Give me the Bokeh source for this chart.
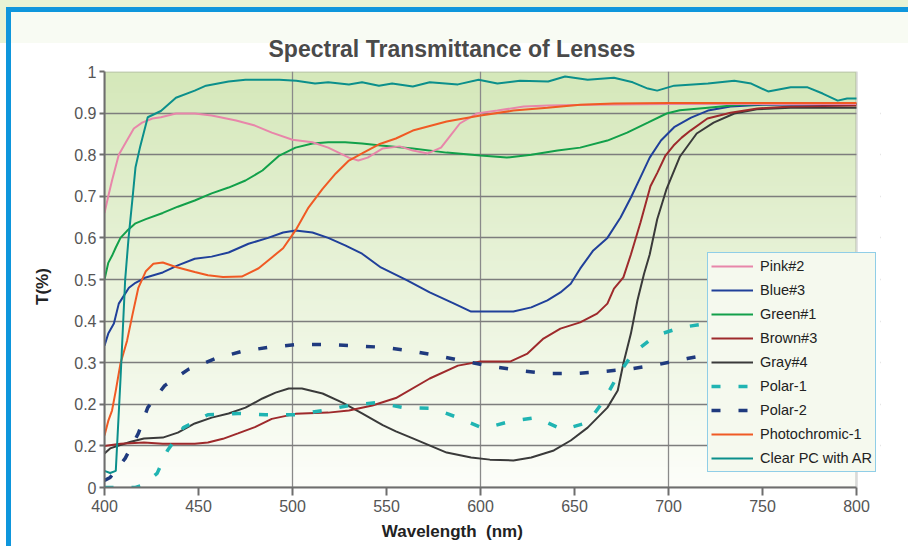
import numpy as np
from bokeh.plotting import figure
from bokeh.models import FixedTicker, Legend, LegendItem, Range1d, LinearAxis, BoxAnnotation
from bokeh.embed import file_html
from bokeh.resources import INLINE

# ---------------- data ----------------
pink_wl = [400, 402, 404, 407.6, 411, 415.6, 420, 425.5, 430, 438, 448, 457, 470, 480, 489, 500, 510.6, 519, 530, 535, 540, 548, 557, 564, 572, 579, 584, 589, 598, 609, 623, 636, 660, 700, 750, 800]
pink_t = [0.66, 0.70, 0.738, 0.80, 0.827, 0.863, 0.877, 0.887, 0.89, 0.899, 0.899, 0.894, 0.882, 0.87, 0.853, 0.836, 0.83, 0.817, 0.793, 0.786, 0.793, 0.815, 0.82, 0.81, 0.803, 0.817, 0.846, 0.875, 0.899, 0.906, 0.916, 0.918, 0.92, 0.922, 0.922, 0.922]

blue_wl = [400, 402, 405, 407.6, 411, 413, 416.5, 422, 431, 439, 448, 457, 466, 476.6, 487, 495, 501.6, 510.6, 519, 528, 537, 547, 561, 573, 586, 595, 617.5, 627, 635.6, 642.5, 648, 653, 660, 667.5, 674.5, 680, 685, 690, 696, 703, 712, 721, 733, 750, 800]
blue_t = [0.341, 0.37, 0.394, 0.442, 0.466, 0.48, 0.492, 0.505, 0.517, 0.534, 0.55, 0.555, 0.565, 0.586, 0.60, 0.613, 0.618, 0.613, 0.60, 0.582, 0.562, 0.529, 0.498, 0.469, 0.442, 0.423, 0.423, 0.433, 0.45, 0.469, 0.49, 0.526, 0.57, 0.60, 0.649, 0.697, 0.745, 0.793, 0.834, 0.866, 0.889, 0.906, 0.916, 0.92, 0.922]

green_wl = [400, 402, 404, 406, 408.5, 412, 416.5, 422, 431, 439, 448, 457, 466, 475, 484, 493, 501.6, 510.6, 519, 528, 537, 547, 564, 582, 600, 614, 627, 641, 653, 667.5, 678, 689, 699, 706, 721, 738, 760, 800]
green_t = [0.5, 0.54, 0.557, 0.577, 0.60, 0.617, 0.635, 0.645, 0.66, 0.675, 0.69, 0.707, 0.721, 0.738, 0.762, 0.798, 0.817, 0.827, 0.83, 0.83, 0.827, 0.822, 0.815, 0.805, 0.798, 0.793, 0.80, 0.81, 0.817, 0.834, 0.853, 0.877, 0.899, 0.907, 0.913, 0.92, 0.922, 0.922]

brown_wl = [400, 408.5, 421, 431, 448, 455, 463, 471, 480, 489, 501.6, 519, 530, 542.5, 555, 573, 588, 600, 616, 625, 633.5, 642.5, 653, 662, 667.5, 671, 676, 680, 685.1, 690.4, 694.1, 698.4, 702.7, 707, 711.7, 720.7, 733, 747.3, 765, 800]
brown_t = [0.1, 0.105, 0.108, 0.105, 0.105, 0.108, 0.117, 0.13, 0.145, 0.165, 0.177, 0.18, 0.185, 0.197, 0.215, 0.262, 0.293, 0.303, 0.303, 0.322, 0.358, 0.382, 0.397, 0.418, 0.442, 0.478, 0.505, 0.56, 0.637, 0.724, 0.757, 0.798, 0.822, 0.841, 0.858, 0.887, 0.901, 0.911, 0.916, 0.918]

gray_wl = [400, 403, 407.6, 414, 421, 431, 439, 448, 457, 466, 475, 484, 491, 498, 505, 516, 526.6, 537, 548, 555, 564, 582, 595, 605, 617.5, 627, 639, 648, 657, 667.5, 673, 676, 680, 683.5, 687, 690, 694, 699, 706, 715, 724, 735, 747, 765, 800]
gray_t = [0.082, 0.094, 0.101, 0.11, 0.118, 0.12, 0.132, 0.154, 0.168, 0.178, 0.192, 0.214, 0.228, 0.238, 0.238, 0.226, 0.204, 0.178, 0.15, 0.135, 0.118, 0.084, 0.072, 0.067, 0.065, 0.072, 0.089, 0.113, 0.144, 0.192, 0.233, 0.298, 0.37, 0.45, 0.514, 0.56, 0.645, 0.718, 0.795, 0.851, 0.877, 0.899, 0.909, 0.913, 0.913]

polar1_wl = [400, 416.5, 420, 428, 433.5, 442, 455, 471, 485.6, 501.6, 516, 530, 545, 559, 574.5, 588, 601.6, 616, 629.8, 643.6, 657, 665.6, 673, 681, 693, 707, 722]
polar1_t = [0.0, 0.0, 0.005, 0.034, 0.089, 0.144, 0.175, 0.178, 0.175, 0.175, 0.185, 0.197, 0.204, 0.192, 0.19, 0.168, 0.142, 0.159, 0.168, 0.139, 0.156, 0.209, 0.269, 0.322, 0.365, 0.385, 0.395]

polar2_wl = [400, 403, 411, 418, 423, 432, 444.6, 459, 473, 487, 503, 517.5, 532, 548, 562, 577, 592, 606, 621, 636, 651, 665.6, 681, 695, 710, 722]
polar2_t = [0.017, 0.024, 0.07, 0.13, 0.192, 0.245, 0.284, 0.31, 0.327, 0.337, 0.344, 0.344, 0.341, 0.337, 0.329, 0.317, 0.303, 0.291, 0.281, 0.274, 0.274, 0.279, 0.286, 0.296, 0.31, 0.32]

photo_wl = [400, 402, 404, 406, 408.5, 412, 415, 418, 422, 426, 431, 438, 448, 455, 463, 473, 482, 489, 495, 501.6, 508.5, 516, 523, 530, 537, 546, 555, 564, 582, 600, 617.5, 635.6, 653, 671, 700, 750, 800]
photo_t = [0.125, 0.16, 0.185, 0.233, 0.298, 0.353, 0.418, 0.48, 0.52, 0.538, 0.541, 0.53, 0.518, 0.51, 0.506, 0.507, 0.527, 0.553, 0.575, 0.618, 0.673, 0.718, 0.755, 0.786, 0.803, 0.825, 0.839, 0.858, 0.88, 0.894, 0.906, 0.913, 0.92, 0.923, 0.924, 0.924, 0.924]

clear_wl = [400, 403, 406, 408.5, 411, 412.8, 415, 416.5, 419, 423, 430, 438, 448, 454, 466, 475, 493, 502, 512, 519, 530, 537, 546, 553, 564, 573, 588, 599, 609, 621, 636, 645, 657, 671, 681, 689, 694, 703, 721, 735, 744, 753, 765, 774, 782, 790, 795, 800]
clear_t = [0.04, 0.035, 0.04, 0.26, 0.5, 0.6, 0.70, 0.77, 0.82, 0.89, 0.905, 0.937, 0.954, 0.966, 0.976, 0.98, 0.98, 0.978, 0.971, 0.974, 0.969, 0.974, 0.966, 0.971, 0.964, 0.974, 0.969, 0.98, 0.971, 0.978, 0.976, 0.988, 0.98, 0.985, 0.974, 0.959, 0.954, 0.966, 0.971, 0.978, 0.971, 0.952, 0.962, 0.962, 0.947, 0.93, 0.935, 0.935]

x_ticks = [400, 450, 500, 550, 600, 650, 700, 750, 800]
y_ticks = [0.0, 0.1, 0.2, 0.3, 0.4, 0.5, 0.6, 0.7, 0.8, 0.9, 1.0]
y_tick_labels = ["0", "0.2", "0.2", "0.3", "0.4", "0.5", "0.6", "0.7", "0.8", "0.9", "1"]

series_names = ["Pink#2", "Blue#3", "Green#1", "Brown#3", "Gray#4", "Polar-1", "Polar-2", "Photochromic-1", "Clear PC with AR"]

title_text = "Spectral Transmittance of Lenses"
x_title = "Wavelength\u00a0 (nm)"
y_title = "T(%)"

X_MIN, X_MAX = 400, 800
X_VIEW_MAX = 812.77  # extra room right of the data area so the legend can overhang it

NB = "\u00a0"

# ---------------- figure ----------------
p = figure(width=908, height=546, output_backend="svg", toolbar_location=None,
           x_range=Range1d(X_MIN, X_VIEW_MAX), y_range=Range1d(0, 1),
           title=title_text,
           min_border_left=104, min_border_right=28, min_border_top=71, min_border_bottom=59)

p.styles = {
    "position": "absolute", "left": "0px", "top": "0px",
    "background": ("linear-gradient(#0e96dc,#0e96dc) 6px 7px / 100% 5px no-repeat,"
                   "linear-gradient(#0e96dc,#0e96dc) 6px 7px / 5px 100% no-repeat,"
                   "linear-gradient(#f8fbf3,#f8fbf3) 11px 12px / 100% 31px no-repeat,"
                   "linear-gradient(#e8f3d5,#e8f3d5) 0px 0px / 100% 43px no-repeat,"
                   "#ffffff"),
}
p.border_fill_color = None
p.background_fill_color = None
p.outline_line_color = None

p.title.align = "left"
p.title.offset = 164
p.title.standoff = 19
p.title.text_font = "Liberation Sans"
p.title.text_font_size = "23px"
p.title.text_font_style = "bold"
p.title.text_color = "#4a4a4a"

# plot-area gradient (green top -> white bottom)
n = 200
img = np.zeros((n, 1), dtype=np.uint32)
view = img.view(dtype=np.uint8).reshape((n, 1, 4))
top = np.array([213, 232, 186])
bot = np.array([253, 254, 250])
for i in range(n):
    f = i / (n - 1)
    c = bot + (top - bot) * f
    view[i, 0, 0] = int(c[0]); view[i, 0, 1] = int(c[1]); view[i, 0, 2] = int(c[2]); view[i, 0, 3] = 255
p.image_rgba(image=[img], x=X_MIN, y=0, dw=X_MAX - X_MIN, dh=1, level="image")

# grids
p.ygrid.ticker = FixedTicker(ticks=y_ticks)
p.ygrid.grid_line_color = "#7d7d7d"
p.ygrid.grid_line_width = 1.3
p.xgrid.ticker = FixedTicker(ticks=[500, 600, 700])
p.xgrid.grid_line_color = "#8a8a8a"
p.xgrid.grid_line_width = 1.3

# blank the spare strip right of the data area, then outline the data area
p.add_layout(BoxAnnotation(left=X_MAX, fill_color="#ffffff", fill_alpha=1, line_color=None, level="underlay"))
p.add_layout(BoxAnnotation(left=X_MIN, right=X_MAX, bottom=0, top=1, fill_alpha=0,
                           line_color="#858585", line_width=2.6, level="underlay"))

# axes
for ax in (p.xaxis[0], p.yaxis[0]):
    ax.axis_line_color = "#6e6e6e"
    ax.axis_line_width = 2
    ax.major_tick_line_color = "#6e6e6e"
    ax.major_tick_line_width = 2
    ax.minor_tick_line_color = None
    ax.major_tick_in = 0
    ax.major_label_text_font = "Liberation Sans"
    ax.major_label_text_font_size = "16px"
    ax.major_label_text_color = "#555555"
p.xaxis.ticker = FixedTicker(ticks=x_ticks)
p.xaxis.bounds = (X_MIN, X_MAX)
p.xaxis.major_tick_out = 8
p.xaxis.major_label_standoff = 4
p.yaxis.ticker = FixedTicker(ticks=y_ticks)
p.yaxis.major_tick_out = 5
p.yaxis.major_label_standoff = 3
p.yaxis.major_label_overrides = {t: s for t, s in zip(y_ticks, y_tick_labels)}

# axis titles on extra (label-only) axes; trailing no-break spaces shift them like the reference
xlab = LinearAxis(ticker=FixedTicker(ticks=[]), axis_label=x_title + NB * 17,
                  axis_line_color=None, major_tick_line_color=None, minor_tick_line_color=None,
                  axis_label_standoff=7, axis_label_text_font="Liberation Sans",
                  axis_label_text_font_size="17px", axis_label_text_font_style="bold",
                  axis_label_text_color="#222222")
p.add_layout(xlab, "below")
ylab = LinearAxis(ticker=FixedTicker(ticks=[]), axis_label=y_title + NB * 3,
                  axis_line_color=None, major_tick_line_color=None, minor_tick_line_color=None,
                  axis_label_standoff=20, axis_label_text_font="Liberation Sans",
                  axis_label_text_font_size="17px", axis_label_text_font_style="bold",
                  axis_label_text_color="#222222")
p.add_layout(ylab, "left")

# series
styles = [
    (pink_wl, pink_t, "#e886aa", 2, "solid"),
    (blue_wl, blue_t, "#20409a", 2, "solid"),
    (green_wl, green_t, "#12a04a", 2, "solid"),
    (brown_wl, brown_t, "#9e2a2c", 2, "solid"),
    (gray_wl, gray_t, "#3a3a3a", 2, "solid"),
    (polar1_wl, polar1_t, "#20b4b2", 3.5, "9 18"),
    (polar2_wl, polar2_t, "#1f3a7e", 3.5, "9 18"),
    (photo_wl, photo_t, "#f05a24", 2, "solid"),
    (clear_wl, clear_t, "#0b8f8b", 2, "solid"),
]
draw_order = [4, 3, 5, 6, 1, 2, 0, 7, 8]
renderers = [None] * len(styles)
for k in draw_order:
    xs, ys, col, w, dash = styles[k]
    renderers[k] = p.line(xs, ys, line_color=col, line_width=w, line_dash=dash)

legend = Legend(items=[LegendItem(label=nm, renderers=[r]) for nm, r in zip(series_names, renderers)],
                location=(603, 15))
legend.label_text_font = "Liberation Sans"
legend.label_text_font_size = "14.5px"
legend.label_text_color = "#222222"
legend.border_line_color = "#2ba3e0"
legend.border_line_width = 1.5
legend.background_fill_color = "#f5f9ee"
legend.background_fill_alpha = 1
legend.glyph_width = 42
legend.glyph_height = 20
legend.label_height = 20
legend.spacing = 4
legend.padding = 3
legend.margin = 0
legend.label_standoff = 7
p.add_layout(legend)

open("out.html", "w").write(file_html(p, INLINE))
